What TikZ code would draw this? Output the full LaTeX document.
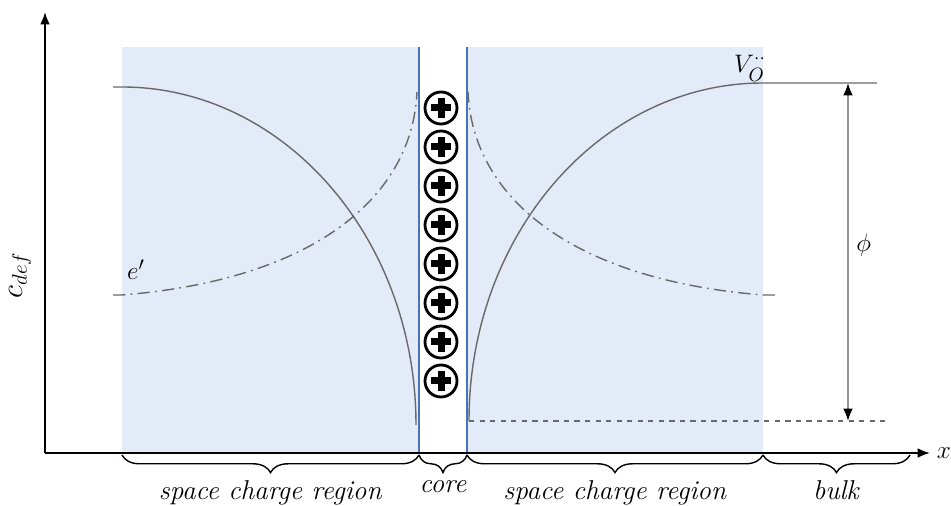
\documentclass[tikz,border=0pt]{standalone}
\usepackage{amsmath,amssymb}
\usetikzlibrary{arrows.meta,decorations.pathreplacing}
\definecolor{scrfill}{RGB}{227,235,248}
\definecolor{coreline}{RGB}{68,114,196}
\definecolor{curvegray}{RGB}{105,105,105}
\definecolor{arrowgray}{RGB}{150,150,150}

\begin{document}
\begin{tikzpicture}[>={Latex[length=7pt,width=5.5pt]}, x=0.02cm, y=-0.02cm,
    font=\fontsize{15.5}{18}\selectfont,
    conc/.style={curvegray, line width=0.8pt},
    dashdot/.style={curvegray, line width=0.8pt, dash pattern=on 7pt off 3pt on 1pt off 3pt},
    sbrace/.style={decorate, decoration={brace, mirror, amplitude=10pt}, line width=0.8pt},
    vacancy/.style={circle, draw, line width=1.6pt, minimum size=32*0.02cm, inner sep=0pt}]

    \useasboundingbox (0,0) rectangle (951,506);

    % --- regiones ---
    \fill[scrfill] (122,47) rectangle (418,453);
    \fill[scrfill] (467,47) rectangle (763,453);
    \draw[coreline, line width=1pt] (419,47) -- (419,453);
    \draw[coreline, line width=1pt] (467,47) -- (467,453);

    % --- ejes ---
    \coordinate (O) at (45,453);
    \coordinate (xend) at (930,453);
    \coordinate (yend) at (45,12);
    \draw[->, line width=1.1pt] (O) -- (xend) node[right, xshift=0pt] (xlbl) {$x$};
    \draw[->, line width=1.1pt] (O) -- (yend);
    \node[rotate=90, font=\LARGE] (ylbl) at (20,275) {$c_{def}$};

    % --- vacancias en el nucleo ---
    \foreach \i in {0,...,7} {
        \node[vacancy] (v\i) at (441,108+39*\i) {};
        \fill (v\i.center) ++(-10,-3.5) rectangle ++(20,7);
        \fill (v\i.center) ++(-3.5,-10) rectangle ++(7,20);
    }

    % --- concentraciones ---
    \draw[conc] (113,87) -- (122,87) .. controls (284,87) and (416,238) .. (416,425);
    \draw[conc] (469,421) .. controls (469,234) and (601,83) .. (763,83) -- (877,83);
    \draw[dashdot] (113,295) -- (122,295) .. controls (310,280) and (412,200) .. (417,92);
    \draw[dashdot] (775,295) -- (763,295) .. controls (575,280) and (473,200) .. (468,92);
    \draw[curvegray, dashed, line width=0.6pt] (469,421) -- (887,421);

    \node (elbl) at (136,270) {$e'$};
    \node (vlbl) at (750,68) {$V_O^{\cdot\cdot}$};

    % --- potencial ---
    \coordinate (phitop) at (848,83);
    \coordinate (phibot) at (848,421);
    \draw[<->, arrowgray, line width=1pt, >={Latex[length=7pt,width=5.5pt,fill=black,color=black]}] (phitop) -- (phibot)
        node[midway, right, black, xshift=1pt, yshift=4pt] (philbl) {$\phi$};

    % --- llaves ---
    \coordinate (b0) at (122,455);
    \coordinate (b1) at (419,455);
    \coordinate (b2) at (467,455);
    \coordinate (b3) at (763,455);
    \coordinate (b4) at (910,455);
    \draw[sbrace] (b0) -- (b1) node[midway, below=11pt] (scr1) {\textit{space charge region}};
    \draw[sbrace] (b1) -- (b2) node[midway, below=11pt] (core) {\textit{core}};
    \draw[sbrace] (b2) -- (b3) node[midway, below=11pt] (scr2) {\textit{space charge region}};
    \draw[sbrace] (b3) -- (b4) node[midway, below=11pt] (bulk) {\textit{bulk}};

\end{tikzpicture}
\end{document}
